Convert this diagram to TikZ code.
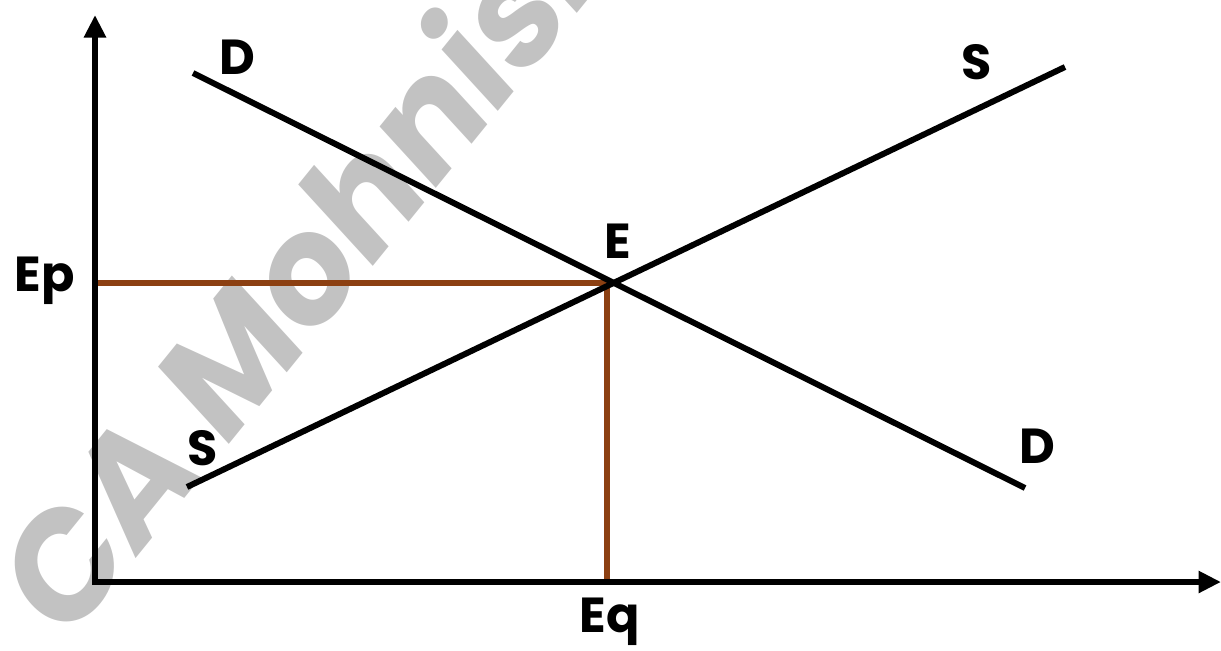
\documentclass[tikz,border=0pt]{standalone}
\usepackage{fontspec}
\setmainfont{Poppins}
\usepackage{tikz}
\usetikzlibrary{arrows.meta, calc, positioning}
\definecolor{mybrown}{rgb}{0.55, 0.25, 0.07}
\definecolor{mygrey}{rgb}{0.76, 0.76, 0.76}
\tikzstyle{curve} = [line width=3.4pt, black]
\tikzstyle{axis} = [line width=3.4pt, black, -{Triangle[length=0.45cm,width=0.42cm]}]
\tikzstyle{guide} = [line width=3.4pt, mybrown]
\tikzstyle{lbl} = [font=\bfseries\fontsize{28}{30}\selectfont, inner sep=0pt]

\begin{document}
\begin{tikzpicture}[x=0.02cm, y=-0.02cm]
\useasboundingbox (0,0) rectangle (1221,650);
\clip (0,0) rectangle (1221,650);

% watermark
\node[
font=\bfseries\fontsize{84}{90}\selectfont\addfontfeature{FakeSlant=0.15},
text=mygrey,
rotate=51,
anchor=base west,
inner sep=0pt
] (mark) at (64,648) {CA Mohnish};

% points
\coordinate (origin) at (95,582);
\coordinate (ytop) at (95,15);
\coordinate (xend) at (1221,582);
\coordinate (d1) at (193,73);
\coordinate (d2) at (1025,488);
\coordinate (s1) at (187,487);
\coordinate (s2) at (1065,67);
\coordinate (eq) at (607,283);

% equilibrium guides
\draw[guide] (origin |- eq) -- (eq) -- (eq |- origin);

% axes
\draw[axis] ([yshift=-1.7pt]origin) -- (ytop);
\draw[axis] ([xshift=-1.7pt]origin) -- (xend);

% demand and supply
\draw[curve] (d1) -- (d2);
\draw[curve] (s1) -- (s2);

% labels
\node[lbl] (dtop) at (237,57) {D};
\node[lbl] (stop) at (977,62) {S};
\node[lbl] (elbl) at (618,241) {E};
\node[lbl] (eplbl) at (45,281) {Ep};
\node[lbl] (sbot) at (203,448) {S};
\node[lbl] (dbot) at (1037,446) {D};
\node[lbl] (eqlbl) at (610,622) {Eq};
\end{tikzpicture}
\end{document}
